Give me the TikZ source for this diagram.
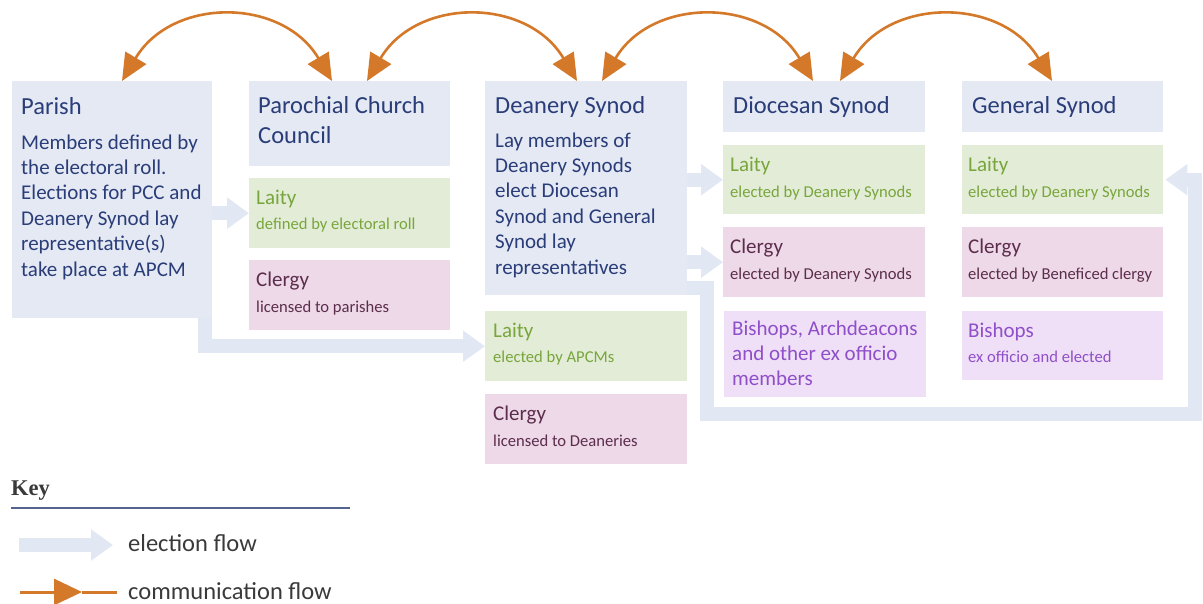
\documentclass[tikz,border=0pt]{standalone}
\usepackage{fontspec}
\setmainfont{Carlito}
\newfontfamily\keyserif{Liberation Serif}
\usetikzlibrary{arrows.meta}
\definecolor{hdr}{HTML}{E4E9F4}
\definecolor{navy}{HTML}{2A3D78}
\definecolor{lfill}{HTML}{E3ECD6}
\definecolor{ltext}{HTML}{78A63C}
\definecolor{cfill}{HTML}{EDD9E7}
\definecolor{ctext}{HTML}{5C2D4C}
\definecolor{bfill}{HTML}{EFE0F7}
\definecolor{btext}{HTML}{8F4FC8}
\definecolor{elec}{HTML}{E1E7F3}
\definecolor{comm}{HTML}{D4782A}
\definecolor{keyline}{HTML}{55648F}
\definecolor{keytext}{HTML}{3A3A3A}
\newcommand{\mylines}[1]{\begin{tabular}[t]{@{}l@{}}#1\end{tabular}}
\tikzset{
  panel/.style={draw=none, inner sep=0pt, anchor=north west},
  hdrbox/.style={panel, fill=hdr},
  laitybox/.style={panel, fill=lfill, minimum height=70pt},
  clergybox/.style={panel, fill=cfill, minimum height=70pt},
  bishbox/.style={panel, fill=bfill},
  lbl/.style={anchor=base west, inner sep=0pt},
  hfont/.style={lbl, font=\fontsize{24.5}{30}\selectfont, text=navy},
  bfont/.style={lbl, font=\fontsize{21}{25.4}\selectfont},
  sfont/.style={lbl, font=\fontsize{16.6}{20}\selectfont},
  elecarrow/.style={draw=elec, line width=14pt, -{Triangle[length=22pt,width=30pt]}},
  commarrow/.style={draw=comm, line width=2.6pt, {Triangle[length=27pt,width=24pt]}-{Triangle[length=27pt,width=24pt]}},
}
\begin{document}
\begin{tikzpicture}[x=1pt,y=-1pt]
\useasboundingbox (0,0) rectangle (1203,603);

% boxes
\node[hdrbox, minimum width=200pt, minimum height=237pt] (parish) at (12,81) {};
\node[hdrbox, minimum width=201pt, minimum height=85pt] (pcc) at (249,81) {};
\node[laitybox, minimum width=201pt] (pccL) at (249,178) {};
\node[clergybox, minimum width=201pt] (pccC) at (249,260) {};
\node[hdrbox, minimum width=202pt, minimum height=214pt] (dean) at (485,81) {};
\node[laitybox, minimum width=202pt] (deanL) at (485,311) {};
\node[clergybox, minimum width=202pt] (deanC) at (485,394) {};
\node[hdrbox, minimum width=202pt, minimum height=51pt] (dio) at (723,81) {};
\node[laitybox, minimum width=202pt, minimum height=69pt] (dioL) at (723,145) {};
\node[clergybox, minimum width=202pt] (dioC) at (723,227) {};
\node[bishbox, minimum width=202pt, minimum height=86pt] (dioB) at (724,311) {};
\node[hdrbox, minimum width=201pt, minimum height=51pt] (gen) at (962,81) {};
\node[laitybox, minimum width=201pt, minimum height=69pt] (genL) at (962,145) {};
\node[clergybox, minimum width=201pt] (genC) at (962,227) {};
\node[bishbox, minimum width=201pt, minimum height=69pt] (genB) at (962,311) {};

% election flow
\coordinate (loopA) at (707,414);
\coordinate (loopB) at (1195,414);
\draw[elecarrow] (pccL.west -| parish.east) -- (pccL.west);
\draw[elecarrow] (dioL.west -| dean.east) -- (dioL.west);
\draw[elecarrow] (dioC.west -| dean.east) -- (dioC.west);
\draw[elecarrow] ([xshift=-7pt]parish.south east) |- (deanL.west);
\draw[elecarrow] ([yshift=7pt]dean.south east) -| (loopA) -- (loopB) |- ([xshift=2pt]genL.east);

% texts
\node[hfont] (parishT) at (21,114) {Parish};
\node[bfont, text=navy] (parishB) at (21,149) {\mylines{Members defined by\\the electoral roll.\\Elections for PCC and\\Deanery Synod lay\\representative(s)\\take place at APCM}};
\node[hfont] (pccT) at (258,113) {\mylines{Parochial Church\\Council}};
\node[bfont, text=ltext] (pccLT) at (256,204) {Laity};
\node[sfont, text=ltext] (pccLS) at (256,229) {defined by electoral roll};
\node[bfont, text=ctext] (pccCT) at (256,286) {Clergy};
\node[sfont, text=ctext] (pccCS) at (256,312) {licensed to parishes};

\node[hfont] (deanT) at (495,113) {Deanery Synod};
\node[bfont, text=navy] (deanB) at (495,147) {\mylines{Lay members of\\Deanery Synods\\elect Diocesan\\Synod and General\\Synod lay\\representatives}};
\node[bfont, text=ltext] (deanLT) at (493,337) {Laity};
\node[sfont, text=ltext] (deanLS) at (493,362) {elected by APCMs};
\node[bfont, text=ctext] (deanCT) at (493,420) {Clergy};
\node[sfont, text=ctext] (deanCS) at (493,446) {licensed to Deaneries};

\node[hfont] (dioT) at (733,113) {Diocesan Synod};
\node[bfont, text=ltext] (dioLT) at (730,171) {Laity};
\node[sfont, text=ltext] (dioLS) at (730,197) {elected by Deanery Synods};
\node[bfont, text=ctext] (dioCT) at (730,253) {Clergy};
\node[sfont, text=ctext] (dioCS) at (730,279) {elected by Deanery Synods};
\node[bfont, text=btext] (dioBT) at (732,335) {\mylines{Bishops, Archdeacons\\and other ex officio\\members}};

\node[hfont] (genT) at (972,113) {General Synod};
\node[bfont, text=ltext] (genLT) at (968,171) {Laity};
\node[sfont, text=ltext] (genLS) at (968,197) {elected by Deanery Synods};
\node[bfont, text=ctext] (genCT) at (968,253) {Clergy};
\node[sfont, text=ctext] (genCS) at (968,279) {elected by Beneficed clergy};
\node[bfont, text=btext] (genBT) at (968,337) {Bishops};
\node[sfont, text=btext] (genBS) at (968,362) {ex officio and elected};

% communication flow
\draw[commarrow] ([xshift=110pt]parish.north west) .. controls +(50,-84) and +(-50,-84) .. ([xshift=83pt]pcc.north west);
\draw[commarrow] ([xshift=118pt]pcc.north west) .. controls +(50,-84) and +(-50,-84) .. ([xshift=92pt]dean.north west);
\draw[commarrow] ([xshift=117pt]dean.north west) .. controls +(50,-84) and +(-50,-84) .. ([xshift=90pt]dio.north west);
\draw[commarrow] ([xshift=117pt]dio.north west) .. controls +(50,-84) and +(-50,-84) .. ([xshift=90pt]gen.north west);

% key
\node[lbl, font=\keyserif\bfseries\fontsize{22.5}{26}\selectfont, text=keytext] (keyT) at (11,495) {Key};
\coordinate (kl1) at (11,508);
\coordinate (kl2) at (350,508);
\draw[keyline, line width=2.5pt] (kl1) -- (kl2);
\coordinate (ke1) at (19,545);
\coordinate (ke2) at (113,545);
\draw[elecarrow] (ke1) -- (ke2);
\node[lbl, font=\fontsize{24.5}{30}\selectfont, text=keytext] (keyE) at (128,551) {election flow};
\coordinate (kc1) at (20,592);
\coordinate (kc2) at (82,592);
\coordinate (kc3) at (117,592);
\draw[comm, line width=3pt, -{Triangle[length=28pt,width=26pt]}] (kc1) -- (kc2);
\draw[comm, line width=3pt] (kc2) -- (kc3);
\node[lbl, font=\fontsize{24.5}{30}\selectfont, text=keytext] (keyC) at (128,599) {communication flow};
\end{tikzpicture}
\end{document}
